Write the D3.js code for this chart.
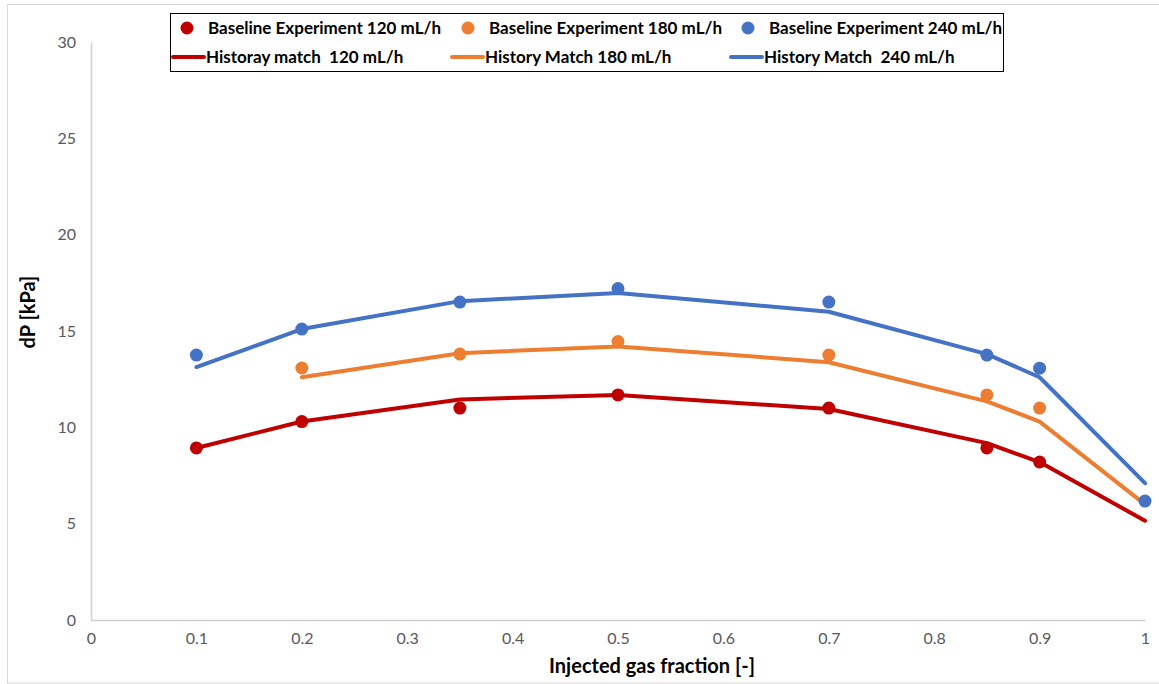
<!DOCTYPE html>
<html>
<head>
<meta charset="utf-8">
<script src="https://cdn.jsdelivr.net/npm/d3@7"></script>
<style>
  body { margin: 0; background: #fff; }
  svg text { font-family: Lato, "Open Sans", sans-serif; white-space: pre; }
</style>
</head>
<body>
<div id="chart"></div>
<script>
// data
const expX120 = [0.1, 0.2, 0.35, 0.5, 0.7, 0.85, 0.9];
const expY120 = [8.93, 10.3, 11.0, 11.68, 11.0, 8.93, 8.2];
const expX180 = [0.2, 0.35, 0.5, 0.7, 0.85, 0.9];
const expY180 = [13.08, 13.8, 14.45, 13.75, 11.68, 11.0];
const expX240 = [0.1, 0.2, 0.35, 0.5, 0.7, 0.85, 0.9, 1];
const expY240 = [13.75, 15.1, 16.5, 17.2, 16.5, 13.75, 13.07, 6.17];

const hmX120 = [0.1, 0.2, 0.35, 0.5, 0.7, 0.85, 0.9, 1];
const hmY120 = [8.93, 10.3, 11.45, 11.68, 10.95, 9.18, 8.2, 5.15];
const hmX180 = [0.2, 0.35, 0.5, 0.7, 0.85, 0.9, 1];
const hmY180 = [12.6, 13.85, 14.2, 13.38, 11.35, 10.3, 6.0];
const hmX240 = [0.1, 0.2, 0.35, 0.5, 0.7, 0.85, 0.9, 1];
const hmY240 = [13.13, 15.1, 16.55, 16.97, 16.0, 13.8, 12.6, 7.1];

const xTicks = [0, 0.1, 0.2, 0.3, 0.4, 0.5, 0.6, 0.7, 0.8, 0.9, 1];
const yTicks = [0, 5, 10, 15, 20, 25, 30];

const colors = { r120: '#c00000', r180: '#ed7d31', r240: '#4472c4' };

const pointSeries = [
    { name: 'Baseline Experiment 120 mL/h', xs: expX120, ys: expY120, color: colors.r120 },
    { name: 'Baseline Experiment 180 mL/h', xs: expX180, ys: expY180, color: colors.r180 },
    { name: 'Baseline Experiment 240 mL/h', xs: expX240, ys: expY240, color: colors.r240 }
];
const lineSeries = [
    { name: 'Historay match  120 mL/h', xs: hmX120, ys: hmY120, color: colors.r120 },
    { name: 'History Match 180 mL/h', xs: hmX180, ys: hmY180, color: colors.r180 },
    { name: 'History Match  240 mL/h', xs: hmX240, ys: hmY240, color: colors.r240 }
];

const width = 1159, height = 684;
const margin = { top: 42, right: 14, bottom: 64, left: 91 };

const svg = d3.select('#chart').append('svg')
    .attr('width', width)
    .attr('height', height);

// chart border
svg.append('rect')
    .attr('x', 7.5).attr('y', 4.5)
    .attr('width', 1160).attr('height', 678.5)
    .attr('fill', 'none')
    .attr('stroke', '#d9d9d9');

const x = d3.scaleLinear().domain([0, 1]).range([margin.left, width - margin.right]);
const y = d3.scaleLinear().domain([0, 30]).range([height - margin.bottom, margin.top]);

// axes
const xAxis = svg.append('g')
    .attr('transform', `translate(0,${y(0)})`)
    .call(d3.axisBottom(x).tickValues(xTicks).tickSize(0).tickPadding(13).tickFormat(d3.format('')));
const yAxis = svg.append('g')
    .attr('transform', `translate(${x(0)},0)`)
    .call(d3.axisLeft(y).tickValues(yTicks).tickSize(0).tickPadding(15));

[xAxis, yAxis].forEach(a => {
    a.select('.domain').attr('stroke', '#d0d0d0').attr('stroke-width', 1.5);
    a.selectAll('text').attr('fill', '#595959').style('font-size', '16px');
});

svg.append('text')
    .attr('x', 652)
    .attr('y', 673)
    .attr('text-anchor', 'middle')
    .style('font-size', '20px')
    .style('font-weight', 'bold')
    .attr('fill', '#000')
    .text('Injected gas fraction [-]');

svg.append('text')
    .attr('transform', `translate(35,312) rotate(-90)`)
    .attr('text-anchor', 'middle')
    .style('font-size', '20px')
    .style('font-weight', 'bold')
    .attr('fill', '#000')
    .text('dP [kPa]');

// history match lines
const line = d3.line().x(d => x(d[0])).y(d => y(d[1]));
lineSeries.forEach(s => {
    svg.append('path')
        .datum(d3.zip(s.xs, s.ys))
        .attr('d', line)
        .attr('fill', 'none')
        .attr('stroke', s.color)
        .attr('stroke-width', 4)
        .attr('stroke-linejoin', 'round')
        .attr('stroke-linecap', 'round');
});

// experiment points
pointSeries.forEach(s => {
    svg.append('g').selectAll('circle')
        .data(d3.zip(s.xs, s.ys))
        .enter()
        .append('circle')
        .attr('cx', d => x(d[0]))
        .attr('cy', d => y(d[1]))
        .attr('r', 6.5)
        .attr('fill', s.color);
});

// legend
const legend = svg.append('g');
legend.append('rect')
    .attr('x', 170.5).attr('y', 13.5)
    .attr('width', 833).attr('height', 58)
    .attr('fill', '#fff')
    .attr('stroke', '#000')
    .attr('stroke-width', 1);

const pointCols = [187, 468, 748];
pointSeries.forEach((s, i) => {
    legend.append('circle')
        .attr('cx', pointCols[i]).attr('cy', 28)
        .attr('r', 6.5)
        .attr('fill', s.color);
    legend.append('text')
        .attr('x', pointCols[i] + 21)
        .attr('y', 34)
        .style('font-size', '17px')
        .style('font-weight', 'bold')
        .attr('fill', '#000')
        .text(s.name);
});

const lineCols = [173, 452, 731];
lineSeries.forEach((s, i) => {
    legend.append('line')
        .attr('x1', lineCols[i]).attr('x2', lineCols[i] + 31)
        .attr('y1', 57).attr('y2', 57)
        .attr('stroke', s.color)
        .attr('stroke-width', 4)
        .attr('stroke-linecap', 'round');
    legend.append('text')
        .attr('x', lineCols[i] + 33)
        .attr('y', 63)
        .style('font-size', '17px')
        .style('font-weight', 'bold')
        .attr('fill', '#000')
        .text(s.name);
});
</script>
</body>
</html>
